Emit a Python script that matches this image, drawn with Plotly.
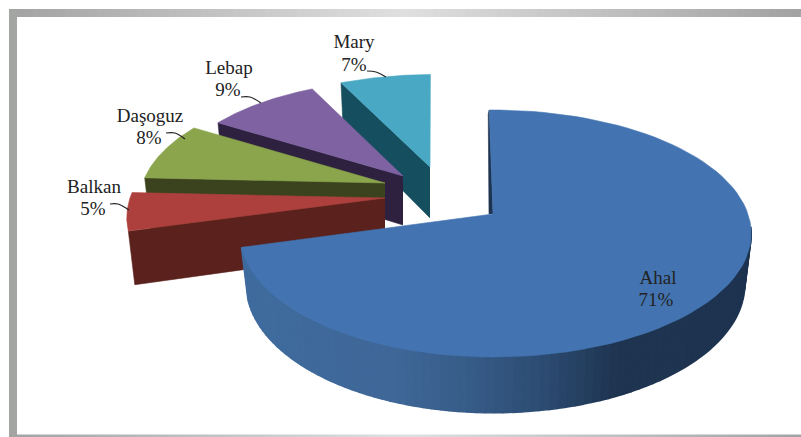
import numpy as np
import plotly.graph_objects as go

# ---- data ----
categories = ["Ahal", "Balkan", "Daşoguz", "Lebap", "Mary"]
shares = [71, 5, 8, 9, 7]

# ---- styles / layout ----
top_colors = ["#4374B1", "#AD403D", "#8AA54B", "#7E62A1", "#49A9C4"]
wall_colors = ["#1D3350", "#5A211D", "#3B431E", "#2E2140", "#154E5E"]
W, H = 801, 437
CX, CY = 493, 214        # pie centre on the page
RX, RY, K = 255, 120.4, 0.158   # projection of the unit disc
START_DEG = -1.0
apex_offset = [(0, 0), (-108, -16), (-108, -31), (-90, -38), (-63, -47)]
slice_scale = [1, 1, 0.95, 0.92, 0.89]
x_stretch = [1, 1, 1, 1, 1.055]
x_shear = [0, 0, 0, 0, 4]
left_squeeze = [0.98, 1, 1, 1, 1]
depth = [50, 52, 52, 49, 51]
label_xy = [(658, 279, 656, 301), (94, 188, 93, 210), (150, 117, 149, 139),
            (229, 69, 228, 91), (354, 43, 354, 66)]
leaders = [None,
           [(110, 204), (118, 204), (129, 210)],
           [(166, 133), (175, 133), (185, 139)],
           [(241, 97), (250, 97), (261, 103)],
           [(367, 71), (376, 72), (386, 77)]]


def rim(theta_deg, i):
    """Project points of the unit disc rim for slice i onto the page."""
    t = np.radians(theta_deg)
    X, Y = np.sin(t), np.cos(t)
    s = 1 / (1 + K * Y)
    ox, oy = apex_offset[i]
    g = slice_scale[i]
    gx = g * x_stretch[i] * np.where(X < 0, left_squeeze[i], 1.0)
    return CX + ox + gx * RX * X * s + x_shear[i] * Y, CY + oy - g * RY * Y * s


def drop(x, y, i):
    """Bottom edge of the extruded slice below a top-face point."""
    ax, ay = CX + apex_offset[i][0], CY + apex_offset[i][1]
    return ax + (x - ax) * 0.975, ay + depth[i] + (y - ay) * 1.04


def poly(fig, xs, ys, color, lw=0.6):
    fig.add_trace(go.Scatter(x=list(xs), y=list(ys), mode="lines", fill="toself",
                             fillcolor=color, line=dict(color=color, width=lw),
                             hoverinfo="skip", showlegend=False))


def mix(x):
    stops_x = [241, 400, 470, 550, 615, 760]
    stops_c = [(64, 108, 159), (63, 103, 151), (55, 92, 136),
               (43, 74, 112), (31, 53, 81), (29, 51, 80)]
    c = [np.interp(x, stops_x, [s[j] for s in stops_c]) for j in range(3)]
    return "rgb(%d,%d,%d)" % tuple(c)


fracs = np.array(shares, dtype=float) / sum(shares)
edges = START_DEG + 360 * np.concatenate([[0], np.cumsum(fracs)])

fig = go.Figure()

# draw back to front: Mary, Lebap, Daşoguz, Balkan, Ahal
for i in [4, 3, 2, 1, 0]:
    a, b = edges[i], edges[i + 1]
    ax, ay = CX + apex_offset[i][0], CY + apex_offset[i][1]
    th = np.linspace(a, b, 90)
    rx, ry = rim(th, i)
    if i == 0:
        # wall along the starting cut
        poly(fig, [ax, rx[0], rx[0] - 1, ax - 4], [ay, ry[0], ry[0] + 4, ay], wall_colors[i])
        # curved outer wall with its gradient
        wall = np.linspace(96, b, 90)
        wx, wy = rim(wall, i)
        dx, dy = drop(wx, wy, i)
        for j in range(len(wall) - 1):
            xs = [wx[j], wx[j + 1], dx[j + 1], dx[j]]
            ys = [wy[j], wy[j + 1], dy[j + 1], dy[j]]
            poly(fig, xs, ys, mix(np.mean(xs)), lw=1.6)
    else:
        # wall along the cut that faces the viewer
        bx, by = drop(rx[0], ry[0], i)
        cx, cy = drop(ax, ay, i)
        poly(fig, [ax, rx[0], bx, cx], [ay, ry[0], by, cy], wall_colors[i])
    poly(fig, [ax, *rx, ax], [ay, *ry, ay], top_colors[i])

# leader lines
for pts in leaders:
    if pts:
        fig.add_trace(go.Scatter(x=[p[0] for p in pts], y=[p[1] for p in pts], mode="lines",
                                 line=dict(color="#222222", width=1.2, shape="spline"),
                                 hoverinfo="skip", showlegend=False))

# labels
for name, v, (x1, y1, x2, y2) in zip(categories, shares, label_xy):
    fig.add_trace(go.Scatter(x=[x1, x2], y=[y1, y2], mode="text",
                             text=[name, f"{v}%"],
                             textposition="middle center",
                             textfont=dict(family="Liberation Serif", size=19, color="#222222"),
                             hoverinfo="skip", showlegend=False))

# frame
shapes = []
def rect(x0, y0, x1, y1, c):
    shapes.append(dict(type="rect", x0=x0, y0=y0, x1=x1, y1=y1, fillcolor=c,
                       line=dict(width=0), layer="below"))

def grey(x):
    t = 1 - abs(x - 400) / 400
    v = int(162 + t * (224 - 162))
    return f"rgb({v},{v},{v})"

for x in range(9, W, 8):
    rect(x, 9, x + 8, 17, grey(x))
    rect(x, 434.5, x + 8, H, grey(x))
rect(9, 9, 17, H, "#A3A5A3")

fig.update_layout(
    width=W, height=H, margin=dict(l=0, r=0, t=0, b=0),
    paper_bgcolor="white", plot_bgcolor="white", showlegend=False,
    xaxis=dict(range=[0, W], visible=False, fixedrange=True),
    yaxis=dict(range=[H, 0], visible=False, fixedrange=True),
    shapes=shapes,
)
fig.write_html("out.html", post_script="document.body.style.margin='0';",
               config={"displayModeBar": False})
